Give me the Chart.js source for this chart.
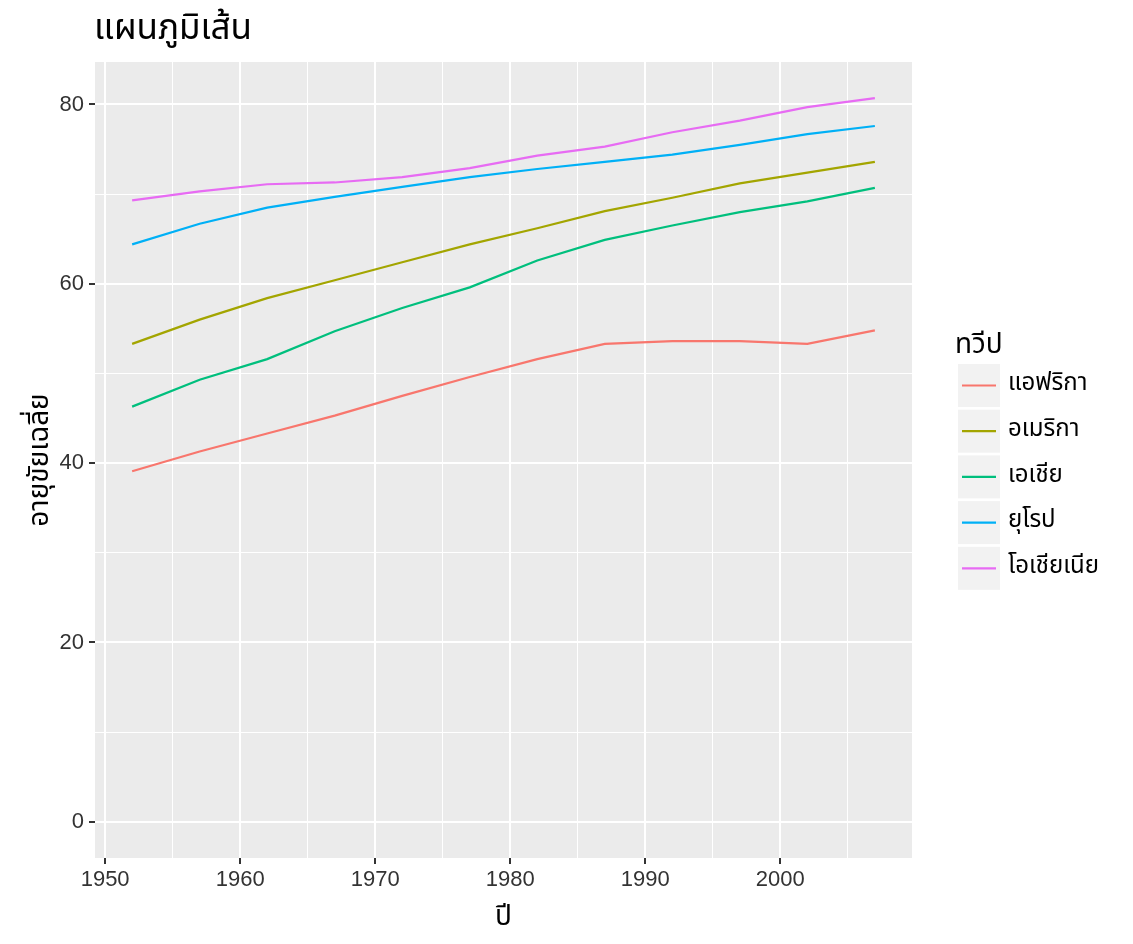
<!DOCTYPE html>
<html>
<head>
<meta charset="utf-8">
<script src="https://cdn.jsdelivr.net/npm/chart.js@4"></script>
<style>
  html, body { margin: 0; padding: 0; background: #fff; }
  #wrap { width: 1133px; height: 944px; }
</style>
</head>
<body>
<div id="wrap"><canvas id="chart" width="1133" height="944"></canvas></div>
<script>
const years = [1952, 1957, 1962, 1967, 1972, 1977, 1982, 1987, 1992, 1997, 2002, 2007];
const continents = ["แอฟริกา", "อเมริกา", "เอเชีย", "ยุโรป", "โอเชียเนีย"];
const colors = ["#F8766D", "#A3A500", "#00BF7D", "#00B0F6", "#E76BF3"];

const africa   = [39.1, 41.3, 43.3, 45.3, 47.5, 49.6, 51.6, 53.3, 53.6, 53.6, 53.3, 54.8];
const americas = [53.3, 56.0, 58.4, 60.4, 62.4, 64.4, 66.2, 68.1, 69.6, 71.2, 72.4, 73.6];
const asia     = [46.3, 49.3, 51.6, 54.7, 57.3, 59.6, 62.6, 64.9, 66.5, 68.0, 69.2, 70.7];
const europe   = [64.4, 66.7, 68.5, 69.7, 70.8, 71.9, 72.8, 73.6, 74.4, 75.5, 76.7, 77.6];
const oceania  = [69.3, 70.3, 71.1, 71.3, 71.9, 72.9, 74.3, 75.3, 76.9, 78.2, 79.7, 80.7];

const xTicks = [1950, 1955, 1960, 1965, 1970, 1975, 1980, 1985, 1990, 1995, 2000, 2005];
const yTicks = [0, 10, 20, 30, 40, 50, 60, 70, 80];

const titleText = "แผนภูมิเส้น";
const xTitle = "ปี";
const yTitle = "อายุขัยเฉลี่ย";
const legendTitle = "ทวีป";

const FONT = "'Noto Sans Thai', 'Noto Sans', 'DejaVu Sans', sans-serif";
const NUMFONT = "'Liberation Sans', Arial, sans-serif";

const series = [africa, americas, asia, europe, oceania];

function toPoints(vals) {
  return vals.map((v, i) => ({ x: years[i], y: v }));
}

// panel background, legend and titles (ggplot look)
const ggDecor = {
  id: "ggDecor",
  beforeDraw(chart) {
    const { ctx, chartArea: a } = chart;
    ctx.save();
    ctx.fillStyle = "#EBEBEB";
    ctx.fillRect(a.left, a.top, a.right - a.left, a.bottom - a.top);
    ctx.restore();
  },
  afterDraw(chart) {
    const { ctx, chartArea: a } = chart;
    ctx.save();
    ctx.fillStyle = "#000";
    ctx.font = "35px " + FONT;
    ctx.textAlign = "left";
    ctx.textBaseline = "alphabetic";
    ctx.fillText(titleText, 94, 39);

    ctx.font = "28px " + FONT;
    ctx.textAlign = "center";
    ctx.fillText(xTitle, (a.left + a.right) / 2, 925);
    ctx.save();
    ctx.translate(48, (a.top + a.bottom) / 2);
    ctx.rotate(-Math.PI / 2);
    ctx.fillText(yTitle, 0, 0);
    ctx.restore();

    // legend
    ctx.textAlign = "left";
    ctx.font = "28px " + FONT;
    ctx.fillText(legendTitle, 955, 353);
    const top0 = 364;
    const step = 45.7;
    continents.forEach((name, i) => {
      const y = top0 + i * step;
      ctx.fillStyle = "#F2F2F2";
      ctx.fillRect(958, y, 42, 43);
      ctx.strokeStyle = colors[i];
      ctx.lineWidth = 2.2;
      ctx.beginPath();
      ctx.moveTo(962, y + 21.5);
      ctx.lineTo(996, y + 21.5);
      ctx.stroke();
      ctx.fillStyle = "#000";
      ctx.font = "24px " + FONT;
      ctx.textBaseline = "middle";
      ctx.fillText(name, 1008, y + 21.5);
    });
    ctx.restore();
  }
};

const gridStyle = (majorStep) => ({
  color: "#FFFFFF",
  lineWidth: (c) => (c.tick && c.tick.value % majorStep === 0 ? 2 : 1),
  tickColor: (c) => (c.tick && c.tick.value % majorStep === 0 ? "#333333" : "rgba(0,0,0,0)"),
  tickWidth: 2,
  tickLength: 6,
  drawOnChartArea: true,
  drawTicks: true
});

new Chart(document.getElementById("chart"), {
  type: "line",
  data: {
    datasets: continents.map((name, i) => ({
      label: name,
      data: toPoints(series[i]),
      borderColor: colors[i],
      backgroundColor: colors[i],
      borderWidth: 2.2,
      pointRadius: 0,
      tension: 0,
      fill: false
    }))
  },
  plugins: [ggDecor],
  options: {
    responsive: false,
    animation: false,
    layout: { padding: { left: 0, top: 62, right: 221, bottom: 0 } },
    plugins: {
      legend: { display: false },
      tooltip: { enabled: false },
      title: { display: false }
    },
    scales: {
      x: {
        type: "linear",
        min: 1949.25,
        max: 2009.75,
        border: { display: false },
        afterBuildTicks: (s) => { s.ticks = xTicks.map(v => ({ value: v })); },
        afterFit: (s) => { s.height = 86; },
        grid: gridStyle(10),
        ticks: {
          color: "#333333",
          font: { size: 22, family: NUMFONT },
          padding: 3,
          maxRotation: 0,
          autoSkip: false,
          callback: (v) => (v % 10 === 0 ? String(v) : "")
        }
      },
      y: {
        type: "linear",
        min: -4.035,
        max: 84.735,
        border: { display: false },
        afterBuildTicks: (s) => { s.ticks = yTicks.map(v => ({ value: v })); },
        afterFit: (s) => { s.width = 95; },
        grid: gridStyle(20),
        ticks: {
          color: "#333333",
          font: { size: 22, family: NUMFONT },
          padding: 5,
          autoSkip: false,
          callback: (v) => (v % 20 === 0 ? String(v) : "")
        }
      }
    }
  }
});
</script>
</body>
</html>
